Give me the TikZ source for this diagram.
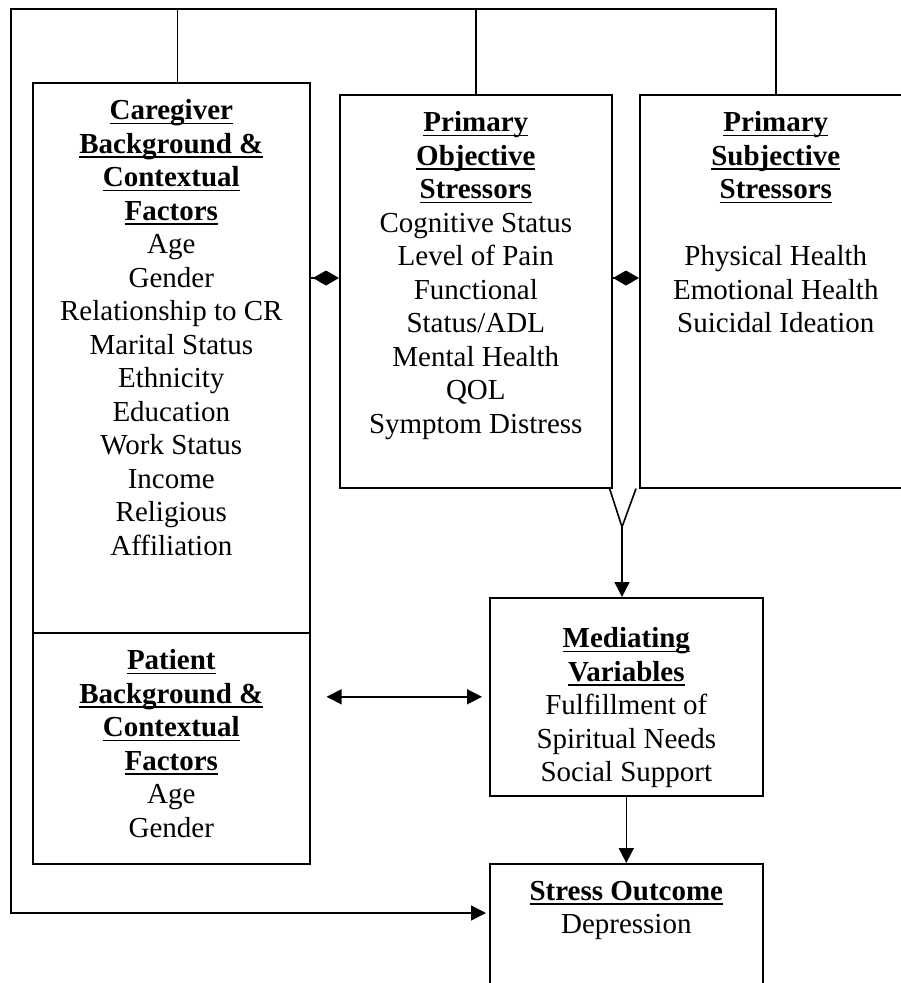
\documentclass[tikz,border=0pt]{standalone}
\usepackage{fontspec}
\setmainfont{Liberation Serif}
\usetikzlibrary{arrows.meta}
\newcommand{\hd}[1]{\sbox0{\textbf{#1}}\rlap{\rule[-4.5pt]{\wd0}{1.8pt}}\usebox0}

\begin{document}
\begin{tikzpicture}[x=1pt,y=-1pt,line width=1.6pt,
    box/.style={draw,inner sep=0pt,anchor=north west},
    boxtext/.style={anchor=north,align=center,inner sep=0pt,font=\fontsize{29}{33.5}\selectfont},
    pointer/.style={-{Triangle[length=15pt,width=15pt]}},
    twoway/.style={{Triangle[length=15pt,width=15pt]}-{Triangle[length=15pt,width=15pt]}},
    link/.style={-{Diamond[length=26pt,width=15pt]}}]
  \useasboundingbox (0,0) rectangle (901,983);
  \clip (0,0) rectangle (901,983);
  \node[box,minimum width=277pt,minimum height=550pt] (care) at (32,82) {};
  \node[box,minimum width=277pt,minimum height=231pt] (pat) at (32,632) {};
  \node[box,minimum width=272pt,minimum height=393pt] (obj) at (339,94) {};
  \node[box,minimum width=272pt,minimum height=393pt] (subj) at (639,94) {};
  \node[box,minimum width=273pt,minimum height=198pt] (med) at (489,597) {};
  \node[box,minimum width=273pt,minimum height=200pt] (out) at (489,863) {};
  \node[boxtext] (caretext) at ([yshift=-17pt]care.north) {\hd{Caregiver}\\\hd{Background \&}\\\hd{Contextual}\\\hd{Factors}\\Age\\Gender\\Relationship to CR\\Marital Status\\Ethnicity\\Education\\Work Status\\Income\\Religious\\Affiliation};
  \node[boxtext] (pattext) at ([yshift=-17pt]pat.north) {\hd{Patient}\\\hd{Background \&}\\\hd{Contextual}\\\hd{Factors}\\Age\\Gender};
  \node[boxtext] (objtext) at ([yshift=-17pt]obj.north) {\hd{Primary}\\\hd{Objective}\\\hd{Stressors}\\Cognitive Status\\Level of Pain\\Functional\\Status/ADL\\Mental Health\\QOL\\Symptom Distress};
  \node[boxtext] (subjtext) at ([yshift=-17pt]subj.north) {\hd{Primary}\\\hd{Subjective}\\\hd{Stressors}\\[33.5pt]Physical Health\\Emotional Health\\Suicidal Ideation};
  \node[boxtext] (medtext) at ([yshift=-30pt]med.north) {\hd{Mediating}\\\hd{Variables}\\Fulfillment of\\Spiritual Needs\\Social Support};
  \node[boxtext] (outtext) at ([yshift=-17pt]out.north) {\hd{Stress Outcome}\\Depression};
  \coordinate (topleft) at (11,9);
  \coordinate (fork) at (622,527);
  \coordinate (d1) at ([yshift=-184pt]obj.north west);
  \coordinate (d2) at ([yshift=-184pt]subj.north west);
  \coordinate (pa) at (pat.east |- med.west);
  \draw ([xshift=6pt]care.north) -- ([xshift=6pt]care.north |- topleft);
  \draw (obj.north) -- (obj.north |- topleft);
  \draw[pointer,shorten >=3pt] (subj.north) |- (topleft) |- ([yshift=-50pt]out.north west);
  \draw[link] (care.east |- d1) -- (d1);
  \draw[link] (obj.east |- d2) -- (d2);
  \draw ([xshift=-3pt]obj.south east) -- (fork) -- ([xshift=-3pt]subj.south west);
  \draw[pointer] (fork) -- (fork |- med.north);
  \draw[pointer] (med.south) -- (out.north);
  \draw[twoway] ([xshift=16pt]pa) -- ([xshift=-7pt]med.west);
\end{tikzpicture}
\end{document}
